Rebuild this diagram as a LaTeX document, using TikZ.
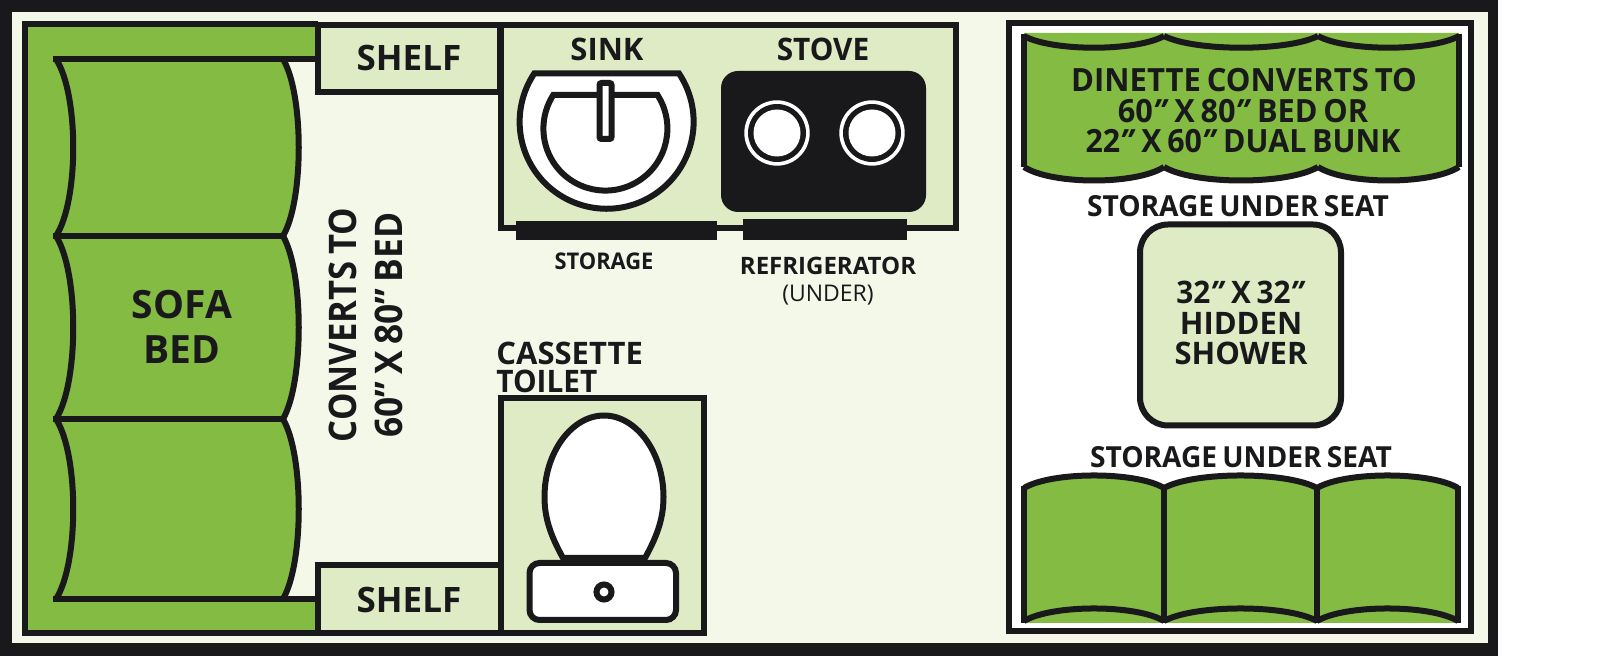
\documentclass[tikz,border=0pt]{standalone}
\usepackage{fontspec}
\setmainfont{Open Sans}[WordSpace=0.72]
\definecolor{ink}{HTML}{19191B}
\definecolor{seat}{HTML}{84BB42}
\definecolor{counter}{HTML}{DFEBC4}
\definecolor{floorbg}{HTML}{F4F8E8}
\newcommand{\inch}{\textit{"}}
\tikzset{
  wall/.style={draw=ink,line width=3pt},
  fixture/.style={wall,fill=white},
  panel/.style={wall,fill=counter},
  lbl/.style={font=\bfseries\fontsize{#1}{#1}\selectfont,text=ink,inner sep=0pt},
  thin lbl/.style={font=\fontsize{#1}{#1}\selectfont,text=ink,inner sep=0pt},
}

\begin{document}
\begin{tikzpicture}[x=0.5pt,y=-0.5pt]
  \useasboundingbox (0,0) rectangle (1600,656);
  \fill[white] (0,0) rectangle (1600,656);
  \fill[ink] (0,0) rectangle (1498,656);
  \fill[floorbg] (12,12) rectangle (1488,643);

  % sofa bed
  \fill[seat] (25,24) rectangle (318,59);
  \fill[seat] (25,599) rectangle (318,633);
  \fill[seat] (25,59) rectangle (60,599);
  \foreach \ya/\yb in {59/236,236/419,419/599} {
    \fill[seat] (56,\ya) -- (283,\ya) .. controls (304,{\ya+(\yb-\ya)*0.2}) and (304,{\yb-(\yb-\ya)*0.2}) .. (283,\yb) -- (56,\yb) -- cycle;
    \draw[wall] (56,\ya) .. controls (79,{\ya+(\yb-\ya)*0.2}) and (79,{\yb-(\yb-\ya)*0.2}) .. (56,\yb);
    \draw[wall] (283,\ya) .. controls (304,{\ya+(\yb-\ya)*0.2}) and (304,{\yb-(\yb-\ya)*0.2}) .. (283,\yb);
  }
  \draw[wall] (318,24) -- (25,24) -- (25,633) -- (318,633);
  \foreach \yl in {59,236,419,599}
    \draw[wall] (53,\yl) -- (286,\yl);
  \draw[wall] (283,59) -- (318,59);
  \draw[wall] (283,599) -- (318,599);

  % shelves
  \draw[panel] (318,25.5) rectangle (499.5,92.5);
  \draw[panel] (318,565) rectangle (501,633);
  \node[lbl=17.5] (shelfTop) at (409,58) {SHELF};
  \node[lbl=17.5] (shelfBot) at (409,600) {SHELF};

  \node[lbl=19.5] (sofa) at (182,305) {SOFA};
  \node[lbl=19.5] (bed) at (182,350) {BED};
  \node[lbl=19,rotate=90,xscale=0.91] (converts) at (343,325) {CONVERTS TO};
  \node[lbl=19,rotate=90,xscale=0.93] (bedsize) at (389,325) {60" X 80" BED};

  % galley
  \draw[panel] (500.5,25.5) rectangle (955.5,228.5);
  \fill[ink] (516,221) rectangle (717,240);
  \fill[ink] (743,219) rectangle (907,240);
  \draw[fixture] (679,73.5) arc[start angle=-33.7,end angle=213.7,radius=87] -- cycle;
  \draw[fixture] (657.5,95) arc[start angle=-32.8,end angle=212.8,radius=62] -- cycle;
  \draw[fixture,rounded corners=1pt] (599.5,83) rectangle (611.5,139);
  \fill[ink,rounded corners=8.5pt] (721,71) rectangle (926,212);
  \foreach \xb in {777,872} {
    \fill[white] (\xb,133) circle (32.7);
    \fill[ink] (\xb,133) circle (29);
    \fill[white] (\xb,133) circle (23.5);
  }
  \node[lbl=15.5] (sink) at (607,49) {SINK};
  \node[lbl=15.5,xscale=0.96] (stove) at (823,49) {STOVE};
  \node[lbl=11.5,xscale=0.95] (storage) at (604,261) {STORAGE};
  \node[lbl=12] (fridge) at (828,265.5) {REFRIGERATOR};
  \node[thin lbl=11.5] (fridgeNote) at (828,295) {(UNDER)};

  % toilet
  \draw[panel] (501,398) rectangle (703.5,633);
  \draw[fixture] (563,558) .. controls (552,538) and (544.5,520) .. (544.5,497)
    .. controls (544.5,452) and (572,415.5) .. (604,415.5)
    .. controls (636,415.5) and (663.5,452) .. (663.5,497)
    .. controls (663.5,520) and (656,538) .. (645,558) -- cycle;
  \draw[fixture,rounded corners=5pt] (529.5,563) rectangle (676,620);
  \draw[wall] (604,592) circle (7.5);
  \node[lbl=15.5,anchor=west] (cassette) at (496,353) {CASSETTE};
  \node[lbl=15.5,anchor=west,xscale=0.96] (toilet) at (496,381) {TOILET};

  % dinette
  \draw[fixture] (1008.5,23.5) rectangle (1470.5,631.5);
  \fill[seat] (1024,33) -- (1459,33) -- (1459,165)
    .. controls (1431,185) and (1346,185) .. (1318,168)
    .. controls (1287,185) and (1195,185) .. (1164,168)
    .. controls (1136,185) and (1050,185) .. (1022,165) -- cycle;
  \foreach \xa/\xb in {1024/1164,1164/1318,1318/1459} {
    \draw[wall] (\xa,36) .. controls ({\xa+(\xb-\xa)*0.2},51.6) and ({\xb-(\xb-\xa)*0.2},51.6) .. (\xb,36);
    \draw[wall] (\xa,167) .. controls ({\xa+(\xb-\xa)*0.2},185) and ({\xb-(\xb-\xa)*0.2},185) .. (\xb,167);
  }
  \draw[wall] (1024,34) -- (1024,167);
  \draw[wall] (1459,34) -- (1459,167);
  \foreach \xa/\xb in {1024/1164,1164/1317,1317/1458} {
    \fill[seat] (\xa,488) .. controls ({\xa+(\xb-\xa)*0.2},471.3) and ({\xb-(\xb-\xa)*0.2},471.3) .. (\xb,488) -- (\xb,623) -- (\xa,623) -- cycle;
    \draw[wall] (\xa,488) .. controls ({\xa+(\xb-\xa)*0.2},471.3) and ({\xb-(\xb-\xa)*0.2},471.3) .. (\xb,488);
    \draw[wall] (\xa,621) .. controls ({\xa+(\xb-\xa)*0.2},604.3) and ({\xb-(\xb-\xa)*0.2},604.3) .. (\xb,621);
  }
  \foreach \xl in {1024,1164,1317,1458}
    \draw[wall] (\xl,486) -- (\xl,623);
  \draw[panel,rounded corners=14pt] (1140,224.5) rectangle (1341,425.5);

  \node[lbl=16,xscale=0.97] (dinetteA) at (1244,80.5) {DINETTE CONVERTS TO};
  \node[lbl=16,xscale=0.96] (dinetteB) at (1243,111) {60\inch{} X 80\inch{} BED OR};
  \node[lbl=16,xscale=0.95] (dinetteC) at (1243,141.5) {22\inch{} X 60\inch{} DUAL BUNK};
  \node[lbl=14.5,xscale=0.97] (storeTop) at (1238,206) {STORAGE UNDER SEAT};
  \node[lbl=14.5,xscale=0.97] (storeBot) at (1241,457) {STORAGE UNDER SEAT};
  \node[lbl=15.5,xscale=0.96] (showerA) at (1241,292.5) {32\inch{} X 32\inch};
  \node[lbl=15.5] (showerB) at (1241,323) {HIDDEN};
  \node[lbl=15.5] (showerC) at (1241,353) {SHOWER};
\end{tikzpicture}
\end{document}
